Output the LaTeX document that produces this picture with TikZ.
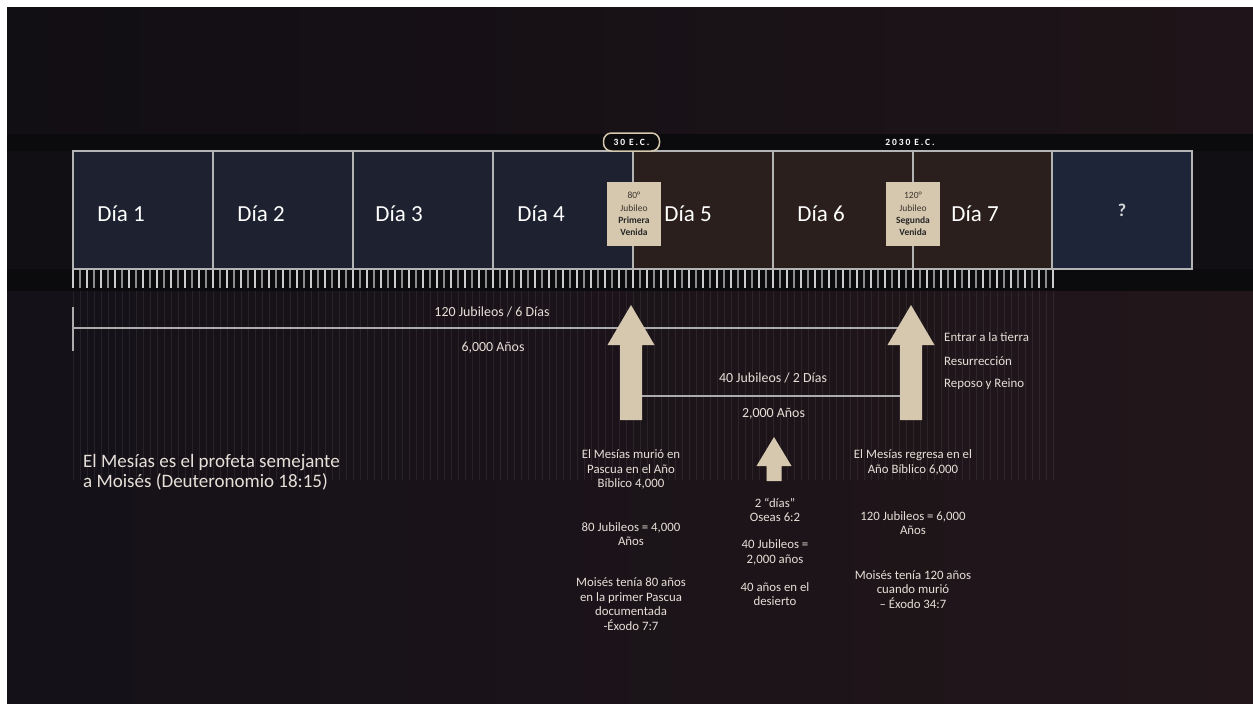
\documentclass[tikz,border=0pt]{standalone}
\usepackage{fontspec}
\setmainfont{Carlito}
\usetikzlibrary{positioning}

\definecolor{bgtop}{HTML}{110E14}
\definecolor{bgband}{HTML}{0B0A0D}
\definecolor{bgleft}{HTML}{141118}
\definecolor{bgright}{HTML}{22161A}
\definecolor{navybox}{HTML}{1D2130}
\definecolor{brownbox}{HTML}{2A1F1C}
\definecolor{qbox}{HTML}{1E2538}
\definecolor{framegray}{HTML}{B4B4B4}
\definecolor{beige}{HTML}{D6C8AE}
\definecolor{jubtext}{HTML}{3A342E}
\definecolor{notetext}{HTML}{E6E0D8}

\begin{document}
\begin{tikzpicture}[x=1pt,y=-1pt,
  daybox/.style={draw=framegray, line width=1.5pt, minimum width=140pt, minimum height=118pt, inner sep=0pt},
  daylabel/.style={text=white, font=\fontsize{23}{26}\selectfont, inner sep=0pt, anchor=west},
  jubbox/.style={fill=beige, text=jubtext, align=center, minimum width=54pt, minimum height=64pt, inner sep=0pt, font=\fontsize{9.5}{12.3}\selectfont},
  eclabel/.style={fill=bgband, text=white, inner sep=0pt, minimum width=54pt, minimum height=18pt, font=\bfseries\fontsize{9.5}{11}\selectfont\addfontfeature{LetterSpace=20}},
  note/.style={text=notetext, align=center, inner sep=0pt, font=\fontsize{12.8}{14.5}\selectfont},
  spanlbl/.style={note, font=\fontsize{13.9}{16}\selectfont},
  sidelbl/.style={note, anchor=west, font=\fontsize{12.9}{15}\selectfont},
  spanline/.style={draw=framegray!110, line width=2pt},
  bigarrow/.pic={\fill[beige] (0,0) -- (23.5,40) -- (11,40) -- (11,115) -- (-11,115) -- (-11,40) -- (-23.5,40) -- cycle;},
  smallarrow/.pic={\fill[beige] (0,0) -- (17.5,29) -- (7.5,29) -- (7.5,44) -- (-7.5,44) -- (-7.5,29) -- (-17.5,29) -- cycle;}]
  \useasboundingbox (0,0) rectangle (1253,704);
  \fill[bgtop] (7,7) rectangle (1253,704);
  \shade[left color=bgtop, right color=bgright!80!bgtop] (7,7) rectangle (1253,134);
  \fill[bgband] (7,134) rectangle (1253,151);
  \shade[left color=bgleft, right color=bgright] (7,290) rectangle (1253,704);
  \fill[bgband] (7,269) rectangle (1253,291);
  \foreach \i in {0,...,140}
    \draw[white, opacity=0.07] (73+7*\i,291) -- (73+7*\i,480);

  \foreach \i/\c in {1/navybox,2/navybox,3/navybox,4/navybox,5/brownbox,6/brownbox,7/brownbox}
    \node[daybox, fill=\c] (day\i) at (3+140*\i,210) {};
  \node[daybox, fill=qbox] (q) at (1122,210) {};

  \foreach \i/\dx in {1/25,2/25,3/23,4/25,5/32,6/25,7/39}
    \node[daylabel, right=\dx pt of day\i.west, yshift=-4pt] (lbl\i) {Día \i};
  \node[text=white!85!black, font=\bfseries\fontsize{18}{20}\selectfont, inner sep=0pt] (qlbl) at (1122,210) {?};

  \foreach \i in {0,...,140}{
    \pgfmathsetmacro{\tc}{mod(\i,2)==0 ? 80 : 55}
    \draw[white!\tc!black, line width=1.2pt] (73+7*\i,270) -- (73+7*\i,288);
  }

  \node[jubbox] (jub80) at (634,214) {80°\\Jubileo\\\textbf{\color{black!85}Primera}\\\textbf{\color{black!85}Venida}};
  \node[jubbox] (jub120) at (913,214) {120°\\Jubileo\\\textbf{\color{black!85}Segunda}\\\textbf{\color{black!85}Venida}};

  \node[eclabel, draw=beige, line width=1.5pt, rounded corners=8pt, minimum width=56pt] (ec30) at (631.5,142) {30 E.C.};
  \node[eclabel, minimum height=16pt] (ec2030) at (910,142) {2030 E.C.};

  \coordinate (span0) at (73,328);
  \coordinate (upA) at (631,305);
  \coordinate (upB) at (911,305);
  \coordinate (upC) at (774,437);
  \coordinate (mid40a) at (642,396);
  \coordinate (mid40b) at (900,396);
  \draw[spanline] (73,307) -- (73,351);
  \draw[spanline] (span0) -- (upB |- span0);
  \draw[spanline] (mid40a) -- (mid40b);

  \pic at (upA) {bigarrow};
  \pic at (upB) {bigarrow};
  \pic at (upC) {smallarrow};

  \node[spanlbl] (j120) at (492,312) {120 Jubileos / 6 Días};
  \node[spanlbl] (a6000) at (493,348) {6,000 Años};
  \node[spanlbl] (j40) at (773,378) {40 Jubileos / 2 Días};
  \node[spanlbl] (a2000) at (773.5,414) {2,000 Años};

  \node[sidelbl] (entrar) at (944,337) {Entrar a la tierra};
  \node[sidelbl] (resur) at (944,361) {Resurrección};
  \node[sidelbl] (reposo) at (944,384) {Reposo y Reino};

  \node[note, anchor=west, align=left, font=\fontsize{19}{20.5}\selectfont] (profeta) at (83,472) {El Mesías es el profeta semejante\\a Moisés (Deuteronomio 18:15)};

  \node[note] (murio) at (631,469.5) {El Mesías murió en\\Pascua en el Año\\Bíblico 4,000};
  \node[note] (j80) at (631,534) {80 Jubileos = 4,000\\Años};
  \node[note] (moises80) at (631,604) {Moisés tenía 80 años\\en la primer Pascua\\documentada\\-Éxodo 7:7};

  \node[note] (dias) at (775,510) {2 “días”\\Oseas 6:2};
  \node[note] (j40b) at (775,552.5) {40 Jubileos =\\2,000 años};
  \node[note] (desierto) at (775,594) {40 años en el\\desierto};

  \node[note] (regresa) at (913,462.5) {El Mesías regresa en el\\Año Bíblico 6,000};
  \node[note] (j120b) at (913,523) {120 Jubileos = 6,000\\Años};
  \node[note] (moises120) at (913,589.5) {Moisés tenía 120 años\\cuando murió\\– Éxodo 34:7};
\end{tikzpicture}
\end{document}
